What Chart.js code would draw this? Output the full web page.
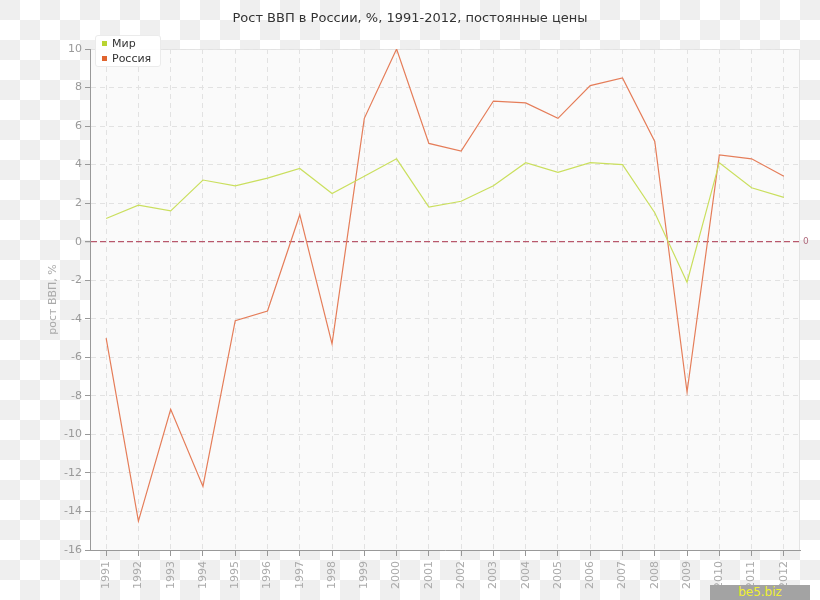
<!DOCTYPE html>
<html>
<head>
<meta charset="utf-8">
<script src="https://cdn.jsdelivr.net/npm/chart.js@4"></script>
<style>
  html, body { margin: 0; padding: 0; }
  body {
    width: 820px; height: 600px; position: relative; overflow: hidden;
    background: repeating-conic-gradient(#fff 0 25%, #efefef 0 50%);
    background-size: 40px 40px;
    font-family: "DejaVu Sans", Verdana, sans-serif;
  }
  canvas { position: absolute; left: 0; top: 0; }
  #legend {
    position: absolute; left: 95px; top: 35px; width: 64px; height: 30px;
    background: rgba(255,255,255,0.92); border: 1px solid #ebebeb; border-radius: 3px;
    font-size: 11px; color: #333;
  }
  #legend div { position: relative; height: 15px; line-height: 15px; padding-left: 16px; }
  #legend span { position: absolute; left: 6px; top: 5px; width: 5px; height: 5px; }
  #wm {
    position: absolute; left: 710px; top: 585px; width: 100px; height: 15px;
    background: #a3a3a3; color: #f0f030; font-size: 12px; line-height: 15px; text-align: center;
  }
</style>
</head>
<body>
<canvas id="chart" width="820" height="600"></canvas>
<div id="legend"></div>
<div id="wm">be5.biz</div>
<script>
// data
const years = ['1991','1992','1993','1994','1995','1996','1997','1998','1999','2000','2001',
               '2002','2003','2004','2005','2006','2007','2008','2009','2010','2011','2012'];
const world  = [1.2, 1.9, 1.6, 3.2, 2.9, 3.3, 3.8, 2.5, 3.4, 4.3, 1.8,
                2.1, 2.9, 4.1, 3.6, 4.1, 4.0, 1.5, -2.1, 4.1, 2.8, 2.3];
const russia = [-5.0, -14.5, -8.7, -12.7, -4.1, -3.6, 1.4, -5.3, 6.4, 10.0, 5.1,
                4.7, 7.3, 7.2, 6.4, 8.1, 8.5, 5.2, -7.8, 4.5, 4.3, 3.4];
const seriesNames = ['Мир', 'Россия'];
const lineColors = ['#cadf5e', '#e57d59'];
const markColors = ['#b9d432', '#e0642f'];

// legend
const leg = document.getElementById('legend');
seriesNames.forEach((n, i) => {
  const d = document.createElement('div');
  d.innerHTML = '<span style="background:' + markColors[i] + '"></span>' + n;
  leg.appendChild(d);
});

// plot background
const plotBg = {
  id: 'plotBg',
  beforeDraw(chart) {
    const a = chart.chartArea, ctx = chart.ctx;
    ctx.save();
    ctx.fillStyle = '#fafafa';
    ctx.fillRect(a.left, a.top, a.right - a.left, a.bottom - a.top);
    ctx.strokeStyle = '#e4e4e4';
    ctx.lineWidth = 1;
    ctx.strokeRect(a.left + 0.5, a.top + 0.5, a.right - a.left - 1, a.bottom - a.top);
    ctx.restore();
  }
};

const font = { family: '"DejaVu Sans", Verdana, sans-serif', size: 11 };
const isZero = c => c.tick && Math.abs(c.tick.value) < 1e-9;

new Chart(document.getElementById('chart').getContext('2d'), {
  type: 'line',
  data: {
    labels: years,
    datasets: [
      { label: seriesNames[0], data: world, borderColor: lineColors[0], borderWidth: 1.2, pointRadius: 0, tension: 0 },
      { label: seriesNames[1], data: russia, borderColor: lineColors[1], borderWidth: 1.2, pointRadius: 0, tension: 0 }
    ]
  },
  options: {
    responsive: false,
    animation: false,
    layout: { padding: 0 },
    plugins: {
      legend: { display: false },
      tooltip: { enabled: false },
      title: {
        display: true,
        text: 'Рост ВВП в России, %, 1991-2012, постоянные цены',
        color: '#333',
        font: { family: font.family, size: 13, weight: 'normal' },
        padding: { top: 11, bottom: 22.4 }
      }
    },
    scales: {
      x: {
        offset: true,
        grid: { color: '#e2e2e2', tickColor: '#999', tickLength: 6, offset: false },
        border: { color: '#999', dash: [5, 4] },
        ticks: { color: '#aaa', font, autoSkip: false, minRotation: 90, maxRotation: 90, padding: 5 },
        afterFit(s) { s.height = 50; }
      },
      y: {
        min: -16, max: 10,
        grid: {
          color: c => isZero(c) ? '#b8586c' : '#e2e2e2',
          lineWidth: c => isZero(c) ? 1.3 : 1,
          tickColor: '#999', tickLength: 5
        },
        border: {
          color: '#999',
          dash: c => isZero(c) ? [6, 3] : [5, 4]
        },
        ticks: { stepSize: 2, color: '#999', font, padding: 3 },
        title: { display: true, text: 'рост ВВП, %', color: '#aaa', font, padding: { top: 47, bottom: 0 } },
        afterFit(s) { s.width = 90; }
      },
      y2: {
        position: 'right',
        min: -16, max: 10,
        grid: { display: false, drawTicks: false },
        border: { display: false },
        ticks: {
          stepSize: 2, autoSkip: false, padding: 3, color: '#b06a7c',
          font: { family: font.family, size: 9 },
          callback: v => v === 0 ? '0' : ''
        },
        afterFit(s) { s.width = 20; }
      }
    }
  },
  plugins: [plotBg]
});
</script>
</body>
</html>
